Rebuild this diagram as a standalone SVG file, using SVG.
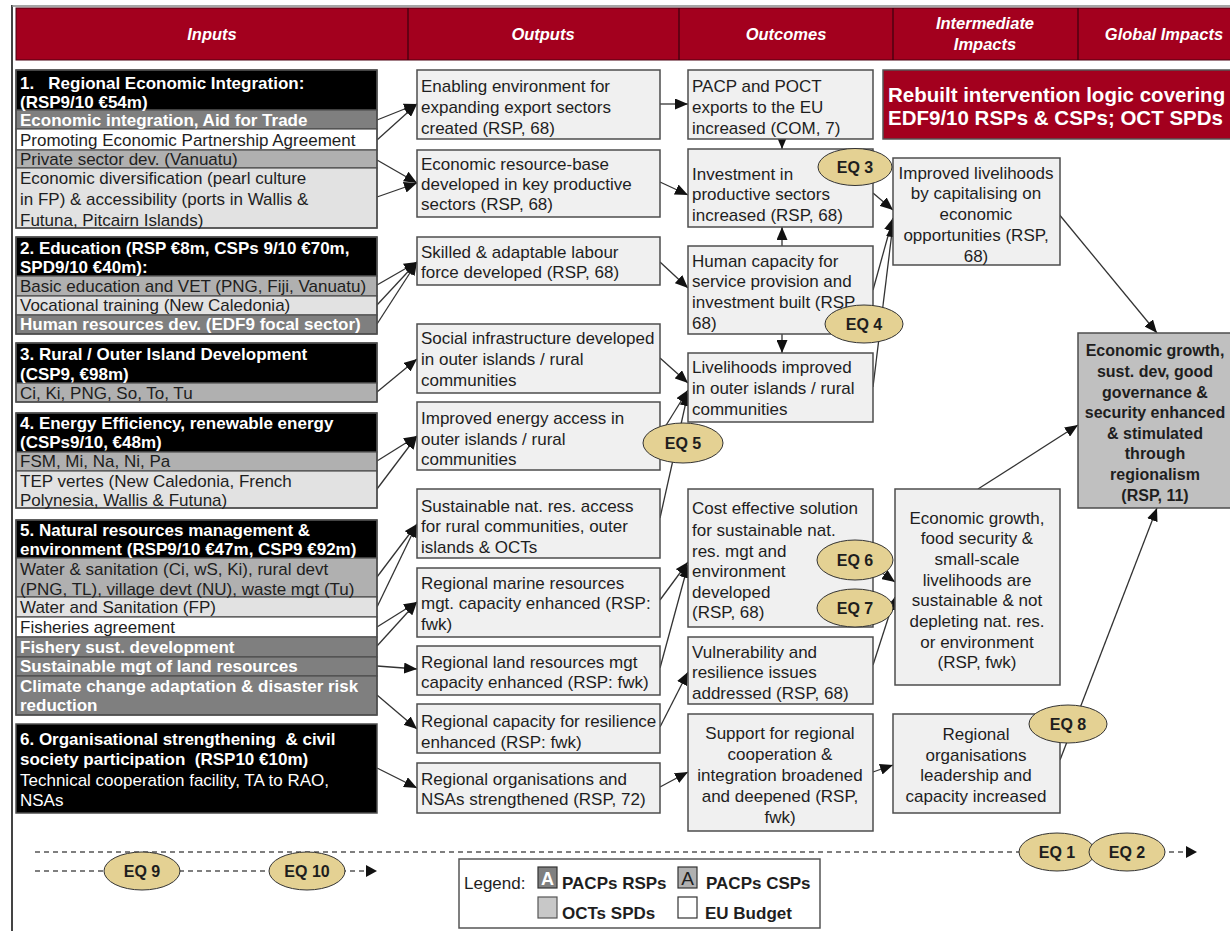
<svg xmlns="http://www.w3.org/2000/svg" width="1230" height="931" viewBox="0 0 1230 931">
<style>
.t{font-family:"Liberation Sans",Arial,Helvetica,sans-serif;font-size:17px;fill:#1e1e1e}
.b{font-weight:bold}
.w{fill:#fff}
.m{text-anchor:middle}
.ht{font-family:"Liberation Sans",Arial,sans-serif;font-size:16.5px;font-weight:bold;font-style:italic;fill:#fff;text-anchor:middle}
.box{fill:#f0f0f0;stroke:#4d4d4d;stroke-width:1.5}
.r{stroke:#4d4d4d;stroke-width:1.2}
.blk{fill:#000}
.dk{fill:#7f7f7f}
.md{fill:#b0b0b0}
.lt{fill:#e2e2e2}
.wh{fill:#fff}
.ol{fill:none;stroke:#4d4d4d;stroke-width:1.5}
.eq{fill:#e4d193;stroke:#333;stroke-width:1}
.eqt{font-family:"Liberation Sans",Arial,sans-serif;font-size:16px;font-weight:bold;fill:#1e1e1e;text-anchor:middle}
.c{stroke:#333;stroke-width:1.3;fill:none;marker-end:url(#ah)}
.d{stroke:#555;stroke-width:1.3;stroke-dasharray:5 4;fill:none}
.g{font-size:16px}
</style>
<defs>
<marker id="ah" markerUnits="userSpaceOnUse" markerWidth="13" markerHeight="11" refX="13" refY="5.5" orient="auto">
<path d="M0,0 L13,5.5 L0,11 z" fill="#111"/>
</marker>
</defs>
<rect x="0" y="0" width="1230" height="931" fill="#fff"/>
<!-- frame -->
<line x1="12" y1="5" x2="12" y2="931" stroke="#444" stroke-width="2"/>
<line x1="12" y1="6" x2="1230" y2="6" stroke="#888" stroke-width="1.5"/>
<!-- header -->
<g id="header">
<rect x="16" y="8" width="1220" height="52" fill="#a3001e" stroke="#4a0010" stroke-width="1"/>
<line x1="408" y1="8" x2="408" y2="60" stroke="#3a000c" stroke-width="1.2"/>
<line x1="679" y1="8" x2="679" y2="60" stroke="#3a000c" stroke-width="1.2"/>
<line x1="893" y1="8" x2="893" y2="60" stroke="#3a000c" stroke-width="1.2"/>
<line x1="1078" y1="8" x2="1078" y2="60" stroke="#3a000c" stroke-width="1.2"/>
<text class="ht" x="212" y="40">Inputs</text>
<text class="ht" x="543" y="40">Outputs</text>
<text class="ht" x="786" y="40">Outcomes</text>
<text class="ht" x="985" y="29">Intermediate</text>
<text class="ht" x="985" y="50">Impacts</text>
<text class="ht" x="1164" y="40">Global Impacts</text>
</g>
<!-- connectors -->
<g id="connectors">
<line class="c" x1="377" y1="120" x2="417" y2="104"/>
<line class="c" x1="377" y1="140" x2="417" y2="104"/>
<line class="c" x1="377" y1="160" x2="417" y2="183"/>
<line class="c" x1="377" y1="197" x2="417" y2="183"/>
<line class="c" x1="377" y1="285" x2="417" y2="262"/>
<line class="c" x1="377" y1="305" x2="417" y2="262"/>
<line class="c" x1="377" y1="324" x2="417" y2="262"/>
<line class="c" x1="377" y1="392" x2="417" y2="359"/>
<line class="c" x1="377" y1="461" x2="417" y2="436"/>
<line class="c" x1="377" y1="489" x2="417" y2="436"/>
<line class="c" x1="377" y1="577" x2="417" y2="524"/>
<line class="c" x1="377" y1="607" x2="417" y2="524"/>
<line class="c" x1="377" y1="627" x2="417" y2="602"/>
<line class="c" x1="377" y1="646" x2="417" y2="602"/>
<line class="c" x1="377" y1="666" x2="417" y2="669"/>
<line class="c" x1="377" y1="695" x2="417" y2="729"/>
<line class="c" x1="377" y1="768" x2="417" y2="788"/>
<line class="c" x1="660" y1="104" x2="688" y2="104"/>
<line class="c" x1="660" y1="182" x2="688" y2="195"/>
<line class="c" x1="660" y1="262" x2="688" y2="288"/>
<line class="c" x1="660" y1="358" x2="688" y2="383"/>
<line class="c" x1="660" y1="435" x2="688" y2="390"/>
<line class="c" x1="660" y1="518" x2="688" y2="393"/>
<line class="c" x1="660" y1="600" x2="688" y2="562"/>
<line class="c" x1="660" y1="668" x2="688" y2="565"/>
<line class="c" x1="660" y1="727" x2="688" y2="672"/>
<line class="c" x1="660" y1="787" x2="688" y2="772"/>
<line class="c" x1="782" y1="139" x2="782" y2="149"/>
<line class="c" x1="782" y1="246" x2="782" y2="227"/>
<line class="c" x1="782" y1="334" x2="782" y2="353"/>
<line class="c" x1="873" y1="193" x2="893" y2="210"/>
<line class="c" x1="873" y1="290" x2="893" y2="218"/>
<line class="c" x1="873" y1="387" x2="893" y2="224"/>
<line class="c" x1="1058" y1="213" x2="1157" y2="333"/>
<line class="c" x1="868" y1="563" x2="895" y2="582"/>
<line class="c" x1="873" y1="665" x2="895" y2="597"/>
<line class="c" x1="978" y1="489" x2="1078" y2="425"/>
<line class="c" x1="873" y1="772" x2="893" y2="765"/>
<line class="c" x1="1060" y1="760" x2="1157" y2="508"/>
<line class="d" x1="35" y1="852" x2="1185" y2="852"/>
<line class="d" x1="35" y1="871" x2="366" y2="871"/>
<path d="M1186,846 L1197,852 L1186,858 z" fill="#111"/>
<path d="M366,865 L377,871 L366,877 z" fill="#111"/>
</g>
<!-- Input boxes -->
<g id="in1">
<rect class="blk r" x="16" y="70" width="361" height="40"/>
<rect class="dk r" x="16" y="110" width="361" height="19"/>
<rect class="wh r" x="16" y="129" width="361" height="21"/>
<rect class="md r" x="16" y="150" width="361" height="18"/>
<rect class="lt r" x="16" y="168" width="361" height="60"/>
<rect class="ol" x="16" y="70" width="361" height="158"/>
<text class="t b w" x="20" y="89" xml:space="preserve">1.   Regional Economic Integration:</text>
<text class="t b w" x="20" y="108">(RSP9/10 €54m)</text>
<text class="t b w" x="20" y="126">Economic integration, Aid for Trade</text>
<text class="t" x="20" y="146">Promoting Economic Partnership Agreement</text>
<text class="t" x="20" y="165">Private sector dev. (Vanuatu)</text>
<text class="t" x="20" y="184">Economic diversification (pearl culture</text>
<text class="t" x="20" y="205">in FP) &amp; accessibility (ports in Wallis &amp;</text>
<text class="t" x="20" y="226">Futuna, Pitcairn Islands)</text>
</g>
<g id="in2">
<rect class="blk r" x="16" y="237" width="361" height="39"/>
<rect class="md r" x="16" y="276" width="361" height="20"/>
<rect class="lt r" x="16" y="296" width="361" height="19"/>
<rect class="dk r" x="16" y="315" width="361" height="19"/>
<rect class="ol" x="16" y="237" width="361" height="97"/>
<text class="t b w" x="20" y="254">2. Education (RSP €8m, CSPs 9/10 €70m,</text>
<text class="t b w" x="20" y="273">SPD9/10 €40m):</text>
<text class="t" x="20" y="292">Basic education and VET (PNG, Fiji, Vanuatu)</text>
<text class="t" x="20" y="311">Vocational training (New Caledonia)</text>
<text class="t b w" x="20" y="330">Human resources dev. (EDF9 focal sector)</text>
</g>
<g id="in3">
<rect class="blk r" x="16" y="343" width="361" height="40"/>
<rect class="md r" x="16" y="383" width="361" height="19"/>
<rect class="ol" x="16" y="343" width="361" height="59"/>
<text class="t b w" x="20" y="360">3. Rural / Outer Island Development</text>
<text class="t b w" x="20" y="380">(CSP9, €98m)</text>
<text class="t" x="20" y="399">Ci, Ki, PNG, So, To, Tu</text>
</g>
<g id="in4">
<rect class="blk r" x="16" y="413" width="361" height="39"/>
<rect class="md r" x="16" y="452" width="361" height="19"/>
<rect class="lt r" x="16" y="471" width="361" height="37"/>
<rect class="ol" x="16" y="413" width="361" height="95"/>
<text class="t b w" x="20" y="429">4. Energy Efficiency, renewable energy</text>
<text class="t b w" x="20" y="448">(CSPs9/10, €48m)</text>
<text class="t" x="20" y="467">FSM, Mi, Na, Ni, Pa</text>
<text class="t" x="20" y="487">TEP vertes (New Caledonia, French</text>
<text class="t" x="20" y="506">Polynesia, Wallis &amp; Futuna)</text>
</g>
<g id="in5">
<rect class="blk r" x="16" y="520" width="361" height="38"/>
<rect class="md r" x="16" y="558" width="361" height="39"/>
<rect class="lt r" x="16" y="597" width="361" height="20"/>
<rect class="wh r" x="16" y="617" width="361" height="20"/>
<rect class="dk r" x="16" y="637" width="361" height="20"/>
<rect class="dk r" x="16" y="657" width="361" height="19"/>
<rect class="dk r" x="16" y="676" width="361" height="39"/>
<rect class="ol" x="16" y="520" width="361" height="195"/>
<text class="t b w" x="20" y="536">5. Natural resources management &amp;</text>
<text class="t b w" x="20" y="555">environment (RSP9/10 €47m, CSP9 €92m)</text>
<text class="t" x="20" y="575">Water &amp; sanitation (Ci, wS, Ki), rural devt</text>
<text class="t" x="20" y="595">(PNG, TL), village devt (NU), waste mgt (Tu)</text>
<text class="t" x="20" y="613">Water and Sanitation (FP)</text>
<text class="t" x="20" y="633">Fisheries agreement</text>
<text class="t b w" x="20" y="653">Fishery sust. development</text>
<text class="t b w" x="20" y="672">Sustainable mgt of land resources</text>
<text class="t b w" x="20" y="692">Climate change adaptation &amp; disaster risk</text>
<text class="t b w" x="20" y="711">reduction</text>
</g>
<g id="in6">
<rect class="blk" x="16" y="724" width="361" height="89" stroke="#4d4d4d" stroke-width="1.5"/>
<text class="t b w" x="20" y="745" xml:space="preserve">6. Organisational strengthening  &amp; civil</text>
<text class="t b w" x="20" y="765" xml:space="preserve">society participation  (RSP10 €10m)</text>
<text class="t w" x="20" y="786">Technical cooperation facility, TA to RAO,</text>
<text class="t w" x="20" y="806">NSAs</text>
</g>
<!-- Outputs -->
<g id="o1"><rect class="box" x="417" y="70" width="243" height="69"/>
<text class="t" x="421" y="92">Enabling environment for</text><text class="t" x="421" y="113">expanding export sectors</text><text class="t" x="421" y="134">created (RSP, 68)</text></g>
<g id="o2"><rect class="box" x="417" y="150" width="243" height="67"/>
<text class="t" x="421" y="170">Economic resource-base</text><text class="t" x="421" y="190">developed in key productive</text><text class="t" x="421" y="210">sectors (RSP, 68)</text></g>
<g id="o3"><rect class="box" x="417" y="237" width="243" height="48"/>
<text class="t" x="421" y="258">Skilled &amp; adaptable labour</text><text class="t" x="421" y="278">force developed (RSP, 68)</text></g>
<g id="o4"><rect class="box" x="417" y="324" width="243" height="69"/>
<text class="t" x="421" y="344">Social infrastructure developed</text><text class="t" x="421" y="365">in outer islands / rural</text><text class="t" x="421" y="386">communities</text></g>
<g id="o5"><rect class="box" x="417" y="402" width="243" height="68"/>
<text class="t" x="421" y="424">Improved energy access in</text><text class="t" x="421" y="445">outer islands / rural</text><text class="t" x="421" y="465">communities</text></g>
<g id="o6"><rect class="box" x="417" y="489" width="243" height="69"/>
<text class="t" x="421" y="512">Sustainable nat. res. access</text><text class="t" x="421" y="532">for rural communities, outer</text><text class="t" x="421" y="553">islands &amp; OCTs</text></g>
<g id="o7"><rect class="box" x="417" y="568" width="243" height="69"/>
<text class="t" x="421" y="589">Regional marine resources</text><text class="t" x="421" y="609">mgt. capacity enhanced (RSP:</text><text class="t" x="421" y="630">fwk)</text></g>
<g id="o8"><rect class="box" x="417" y="646" width="243" height="49"/>
<text class="t" x="421" y="668">Regional land resources mgt</text><text class="t" x="421" y="688">capacity enhanced (RSP: fwk)</text></g>
<g id="o9"><rect class="box" x="417" y="704" width="243" height="49"/>
<text class="t" x="421" y="727">Regional capacity for resilience</text><text class="t" x="421" y="748">enhanced (RSP: fwk)</text></g>
<g id="o10"><rect class="box" x="417" y="763" width="243" height="50"/>
<text class="t" x="421" y="785">Regional organisations and</text><text class="t" x="421" y="805">NSAs strengthened (RSP, 72)</text></g>
<!-- Outcomes -->
<g id="c1"><rect class="box" x="688" y="70" width="185" height="69"/>
<text class="t" x="692" y="92">PACP and POCT</text><text class="t" x="692" y="113">exports to the EU</text><text class="t" x="692" y="134">increased (COM, 7)</text></g>
<g id="c2"><rect class="box" x="688" y="149" width="185" height="78"/>
<text class="t" x="692" y="180">Investment in</text><text class="t" x="692" y="200">productive sectors</text><text class="t" x="692" y="221">increased (RSP, 68)</text></g>
<g id="c3"><rect class="box" x="688" y="246" width="185" height="88"/>
<text class="t" x="692" y="267">Human capacity for</text><text class="t" x="692" y="287">service provision and</text><text class="t" x="692" y="308">investment built (RSP,</text><text class="t" x="692" y="329">68)</text></g>
<g id="c4"><rect class="box" x="688" y="353" width="185" height="69"/>
<text class="t" x="692" y="373">Livelihoods improved</text><text class="t" x="692" y="394">in outer islands / rural</text><text class="t" x="692" y="415">communities</text></g>
<g id="c5"><rect class="box" x="688" y="489" width="185" height="138"/>
<text class="t" x="692" y="514">Cost effective solution</text><text class="t" x="692" y="536">for sustainable nat.</text><text class="t" x="692" y="557">res. mgt and</text><text class="t" x="692" y="577">environment</text><text class="t" x="692" y="598">developed</text><text class="t" x="692" y="618">(RSP, 68)</text></g>
<g id="c6"><rect class="box" x="688" y="637" width="185" height="67"/>
<text class="t" x="692" y="658">Vulnerability and</text><text class="t" x="692" y="678">resilience issues</text><text class="t" x="692" y="699">addressed (RSP, 68)</text></g>
<g id="c7"><rect class="box" x="688" y="714" width="185" height="117"/>
<text class="t m" x="780" y="739">Support for regional</text><text class="t m" x="780" y="760">cooperation &amp;</text><text class="t m" x="780" y="781">integration broadened</text><text class="t m" x="780" y="802">and deepened (RSP,</text><text class="t m" x="780" y="823">fwk)</text></g>
<!-- Intermediate impacts -->
<g id="i1"><rect class="box" x="893" y="158" width="167" height="107"/>
<text class="t m" x="976" y="179">Improved livelihoods</text><text class="t m" x="976" y="199">by capitalising on</text><text class="t m" x="976" y="220">economic</text><text class="t m" x="976" y="241">opportunities (RSP,</text><text class="t m" x="976" y="262">68)</text></g>
<g id="i2"><rect class="box" x="895" y="489" width="165" height="196"/>
<text class="t m" x="977" y="524">Economic growth,</text><text class="t m" x="977" y="544">food security &amp;</text><text class="t m" x="977" y="565">small-scale</text><text class="t m" x="977" y="586">livelihoods are</text><text class="t m" x="977" y="606">sustainable &amp; not</text><text class="t m" x="977" y="627">depleting nat. res.</text><text class="t m" x="977" y="648">or environment</text><text class="t m" x="977" y="668">(RSP, fwk)</text></g>
<g id="i3"><rect class="box" x="893" y="714" width="167" height="99"/>
<text class="t m" x="976" y="740">Regional</text><text class="t m" x="976" y="761">organisations</text><text class="t m" x="976" y="781">leadership and</text><text class="t m" x="976" y="802">capacity increased</text></g>
<!-- Global impact -->
<g id="g1"><rect x="1078" y="333" width="165" height="175" fill="#c0c0c0" stroke="#4d4d4d" stroke-width="1.5"/>
<text class="t b m g" x="1155" y="356">Economic growth,</text><text class="t b m g" x="1155" y="377">sust. dev, good</text><text class="t b m g" x="1155" y="398">governance &amp;</text><text class="t b m g" x="1155" y="418">security enhanced</text><text class="t b m g" x="1155" y="439">&amp; stimulated</text><text class="t b m g" x="1155" y="459">through</text><text class="t b m g" x="1155" y="480">regionalism</text><text class="t b m g" x="1155" y="501">(RSP, 11)</text></g>
<!-- Banner -->
<g id="banner"><rect x="883" y="70" width="360" height="69" fill="#a3001e" stroke="#555" stroke-width="1.5"/>
<text class="t b w" x="888" y="102" style="font-size:20.5px">Rebuilt intervention logic covering</text>
<text class="t b w" x="888" y="125" style="font-size:20.5px">EDF9/10 RSPs &amp; CSPs; OCT SPDs</text></g>
<!-- EQ ellipses -->
<g id="eq3"><ellipse class="eq" cx="855" cy="167" rx="37" ry="18.5"/><text class="eqt" x="855" y="173">EQ 3</text></g>
<g id="eq4"><ellipse class="eq" cx="864" cy="324" rx="39" ry="19"/><text class="eqt" x="864" y="330">EQ 4</text></g>
<g id="eq5"><ellipse class="eq" cx="683" cy="443" rx="40" ry="20"/><text class="eqt" x="683" y="449">EQ 5</text></g>
<g id="eq6"><ellipse class="eq" cx="855" cy="560" rx="38" ry="20"/><text class="eqt" x="855" y="566">EQ 6</text></g>
<g id="eq7"><ellipse class="eq" cx="855" cy="608" rx="38" ry="19"/><text class="eqt" x="855" y="614">EQ 7</text></g>
<g id="eq8"><ellipse class="eq" cx="1068" cy="724" rx="39" ry="19"/><text class="eqt" x="1068" y="730">EQ 8</text></g>
<g id="eq1"><ellipse class="eq" cx="1057" cy="852" rx="38" ry="19"/><text class="eqt" x="1057" y="858">EQ 1</text></g>
<g id="eq2"><ellipse class="eq" cx="1127" cy="852" rx="38" ry="19"/><text class="eqt" x="1127" y="858">EQ 2</text></g>
<g id="eq9"><ellipse class="eq" cx="142" cy="871" rx="38" ry="19"/><text class="eqt" x="142" y="877">EQ 9</text></g>
<g id="eq10"><ellipse class="eq" cx="307" cy="871" rx="38" ry="19"/><text class="eqt" x="307" y="877">EQ 10</text></g>
<!-- Legend -->
<g id="legend">
<rect x="459" y="859" width="361" height="69" fill="#fff" stroke="#555" stroke-width="1.5"/>
<text class="t" x="464" y="889">Legend:</text>
<rect x="538" y="867" width="19" height="21" fill="#808080" stroke="#333" stroke-width="1.2"/>
<text class="t b w m" x="547.5" y="885" style="font-size:18px">A</text>
<text class="t b" x="562" y="889">PACPs RSPs</text>
<rect x="678" y="867" width="19" height="21" fill="#b0b0b0" stroke="#333" stroke-width="1.2"/>
<text class="t m" x="687.5" y="885" style="font-size:19px">A</text>
<text class="t b" x="706" y="889">PACPs CSPs</text>
<rect x="538" y="897" width="19" height="21" fill="#c8c8c8" stroke="#555" stroke-width="1.2"/>
<text class="t b" x="562" y="919">OCTs SPDs</text>
<rect x="678" y="897" width="19" height="21" fill="#fff" stroke="#333" stroke-width="1.2"/>
<text class="t b" x="705" y="919">EU Budget</text>
</g>
</svg>
